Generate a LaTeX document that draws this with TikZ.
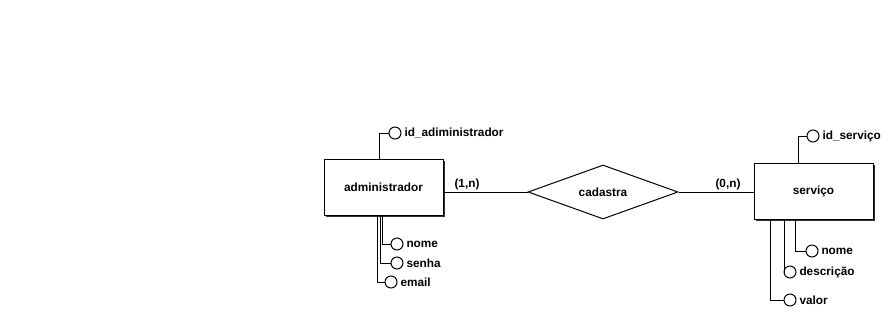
\documentclass[tikz,border=0pt]{standalone}
\usepackage{fontspec}
\setmainfont{Liberation Sans}
\usetikzlibrary{shapes.geometric,shadows,positioning}

\begin{document}
\begin{tikzpicture}[
    x=1pt, y=-1pt,
    line width=1pt,
    every node/.style={font=\fontsize{11.8}{13}\selectfont\bfseries},
    entity/.style={draw, fill=white, minimum width=119pt, minimum height=56pt, inner sep=0pt,
        drop shadow={shadow xshift=2pt, shadow yshift=-2pt, fill=black!80, opacity=1}},
    relation/.style={draw, diamond, aspect=2.78, minimum width=150pt, minimum height=54pt, inner sep=0pt},
    attr/.style={draw, circle, fill=white, minimum size=12pt, inner sep=0pt},
    attrname/.style={inner sep=2.5pt},
    card/.style={inner sep=0pt}
]
    \useasboundingbox (0,0) rectangle (893,309);

    % --- Entities and relationship ---
    \node[entity] (admin) at (383.5,187) {administrador};
    \node[entity] (servico) at (813.5,191) {serviço};
    \node[relation] (cadastra) at (603,192) {cadastra};

    \draw (cadastra.west) -- (cadastra.west -| admin.east);
    \draw (cadastra.east) -- (cadastra.east -| servico.west);

    \node[card] (cardA) at (467,184) {(1,n)};
    \node[card] (cardS) at (728,184) {(0,n)};

    % --- Attributes of administrador ---
    \node[attr] (idA) at (395,133) {};
    \node[attrname, right=0pt of idA] (idAtxt) {id\_adiministrador};
    \draw ([xshift=-4.5pt]admin.north) |- (idA);

    \node[attr] (nomeA) at (397,244) {};
    \node[attrname, right=0pt of nomeA] (nomeAtxt) {nome};
    \node[attr] (senhaA) at (397,263) {};
    \node[attrname, right=0pt of senhaA] (senhaAtxt) {senha};
    \node[attr] (emailA) at (391,282) {};
    \node[attrname, right=0pt of emailA] (emailAtxt) {email};

    \draw ([xshift=-1.5pt]admin.south) |- (nomeA);
    \draw ([xshift=-3.5pt]admin.south) |- (senhaA);
    \draw ([xshift=-6.5pt]admin.south) |- (emailA);

    % --- Attributes of serviço ---
    \node[attr] (idS) at (813,136) {};
    \node[attrname, right=0pt of idS] (idStxt) {id\_serviço};
    \draw ([xshift=-15.5pt]servico.north) |- (idS);

    \node[attr] (nomeS) at (812,251) {};
    \node[attrname, right=0pt of nomeS] (nomeStxt) {nome};
    \node[attr] (descS) at (790,272) {};
    \node[attrname, right=0pt of descS] (descStxt) {descrição};
    \node[attr] (valorS) at (790,300) {};
    \node[attrname, right=0pt of valorS] (valorStxt) {valor};

    \draw ([xshift=-18.5pt]servico.south) |- (nomeS);
    \draw ([xshift=-29.5pt]servico.south) |- (descS);
    \draw ([xshift=-43.5pt]servico.south) |- (valorS);

\end{tikzpicture}
\end{document}
